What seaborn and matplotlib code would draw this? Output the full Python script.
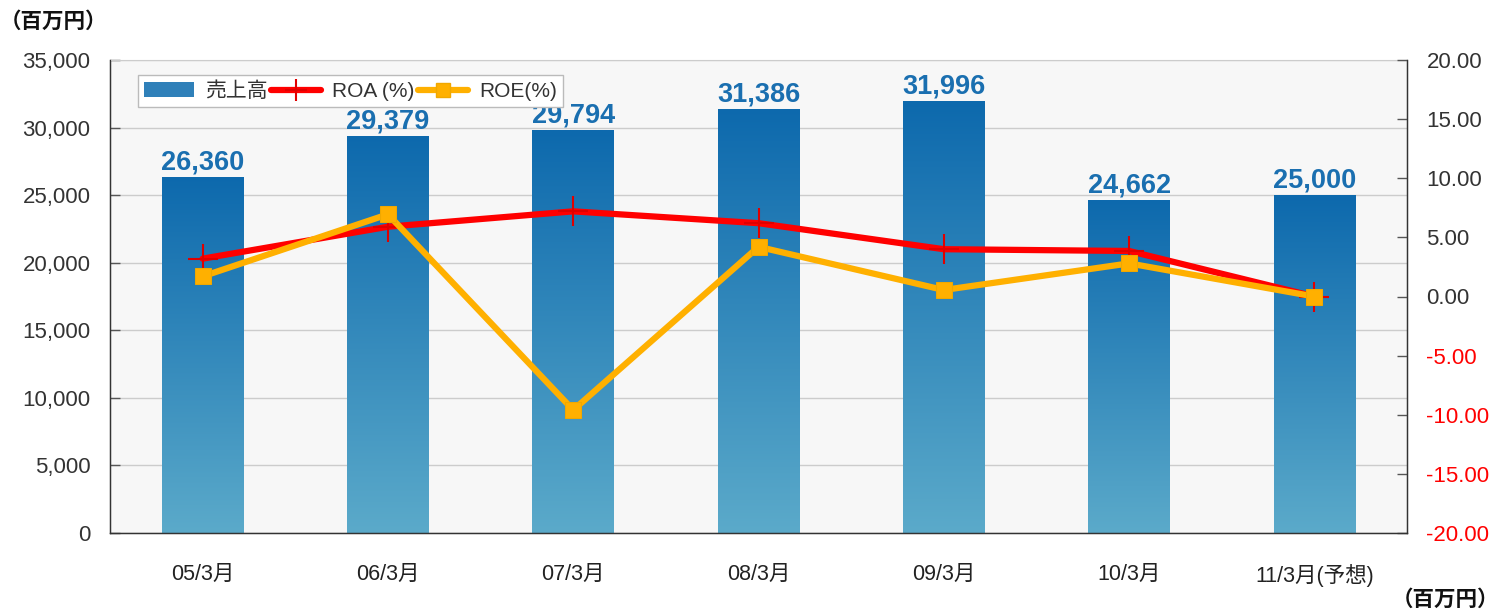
import numpy as np
import pandas as pd
import matplotlib
matplotlib.use("Agg")
import matplotlib.pyplot as plt
import seaborn as sns
from matplotlib.patches import Patch
from matplotlib.lines import Line2D
from matplotlib.colors import LinearSegmentedColormap
from matplotlib.ticker import FuncFormatter, FixedLocator

# ---------------- data ----------------
periods = ["05/3月", "06/3月", "07/3月", "08/3月", "09/3月", "10/3月", "11/3月(予想)"]
sales = [26360, 29379, 29794, 31386, 31996, 24662, 25000]
roa = [3.2, 5.9, 7.2, 6.2, 4.0, 3.85, 0.0]
roe = [1.7, 6.95, -9.6, 4.2, 0.55, 2.8, 0.0]

df = pd.DataFrame({"period": periods, "sales": sales, "roa": roa, "roe": roe})
df["pos"] = np.arange(len(df))

sns.set_style("white")
plt.rcParams["font.family"] = ["Liberation Sans", "Noto Sans CJK JP", "DejaVu Sans"]

fig = plt.figure(figsize=(15.01, 6.11), dpi=100)
ax = fig.add_axes([110 / 1501, 1 - 533 / 611, 1297 / 1501, 473 / 611])
ax.set_facecolor("#F7F7F7")

# bars with vertical gradient
sns.barplot(data=df, x="period", y="sales", ax=ax, width=0.44,
            color="#2A7AB5", saturation=1, zorder=2)

grad = LinearSegmentedColormap.from_list("bar", ["#5BAACA", "#0D69AD"])
gimg = np.linspace(0, 1, 256).reshape(-1, 1)
for p in ax.patches:
    x0, y0 = p.get_x(), p.get_y()
    w, h = p.get_width(), p.get_height()
    im = ax.imshow(gimg, cmap=grad, origin="lower", aspect="auto",
                   extent=[x0, x0 + w, y0, y0 + h], zorder=2)
    im.set_clip_path(p)
    p.set_alpha(0)

ax.bar_label(ax.containers[0], labels=[f"{v:,}" for v in sales], padding=1,
             fontsize=19.5, fontweight="bold", color="#1A6FB0")

ax.set_xlim(-0.5, 6.5)
ax.set_ylim(0, 35000)
ax.yaxis.set_major_locator(FixedLocator(np.arange(0, 35001, 5000)))
ax.yaxis.set_major_formatter(FuncFormatter(lambda v, _: f"{int(v):,}"))
ax.grid(axis="y", color="#CCCCCC", linewidth=1, zorder=0)
ax.set_axisbelow(True)
ax.set_xlabel("")
ax.set_ylabel("")
ax.tick_params(axis="y", direction="in", length=7, width=1, color="#555555",
               labelsize=16, labelcolor="#333333", pad=14)
ax.tick_params(axis="x", length=0, labelsize=15.5, labelcolor="#222222", pad=22)
ax.set_xticks(np.arange(-0.5, 6.6, 1), minor=True)
ax.tick_params(axis="x", which="minor", direction="in", length=6, color="#888888")
for s in ["left", "bottom", "right"]:
    ax.spines[s].set_color("#333333")
    ax.spines[s].set_linewidth(1)
ax.spines["top"].set_color("#CCCCCC")

# ROA / ROE on secondary axis
ax2 = ax.twinx()
sns.lineplot(data=df, x="pos", y="roa", ax=ax2, color="#FF0000", linewidth=4.5,
             marker="+", markersize=22, markeredgewidth=1.5, markeredgecolor="#E00000", zorder=4)
sns.lineplot(data=df, x="pos", y="roe", ax=ax2, color="#FFB000", linewidth=4.5,
             marker="s", markersize=12, markeredgecolor="#F0A800", zorder=5)
ax2.set_ylim(-20, 20)
ax2.set_xlim(-0.5, 6.5)
ax2.yaxis.set_major_locator(FixedLocator(np.arange(-20, 20.1, 5)))
ax2.yaxis.set_major_formatter(FuncFormatter(lambda v, _: f"{v:.2f}"))
ax2.set_ylabel("")
ax2.set_xlabel("")
ax2.tick_params(axis="y", direction="in", length=7, width=1, color="#555555",
                labelsize=16, labelcolor="#333333", pad=14)
for lbl, v in zip(ax2.get_yticklabels(), np.arange(-20, 20.1, 5)):
    if v < 0:
        lbl.set_color("#FF0000")
for s in ["left", "bottom", "right"]:
    ax2.spines[s].set_color("#333333")
ax2.spines["top"].set_visible(False)

handles = [
    Patch(facecolor="#2F80B9", edgecolor="none"),
    Line2D([], [], color="#FF0000", linewidth=4.5, marker="+", markersize=16,
           markeredgewidth=1.5, markeredgecolor="#E00000"),
    Line2D([], [], color="#FFB000", linewidth=4.5, marker="s", markersize=10,
           markeredgecolor="#F0A800"),
]
ax2.legend(handles, ["売上高", "ROA (%)", "ROE(%)"], loc="upper left",
           bbox_to_anchor=(0.0216, 0.968), borderaxespad=0, ncol=3, frameon=True,
           fancybox=False, edgecolor="#BBBBBB", framealpha=1, fontsize=15,
           handlelength=2.4, handletextpad=0.5, columnspacing=0.2, borderpad=0.3,
           labelcolor="#333333")

fig.text(0 / 1501, 1 - 22 / 611, "（百万円）", fontsize=15.5, fontweight="bold",
         ha="left", va="center", color="#111111")
fig.text(1499 / 1501, 1 - 600 / 611, "（百万円）", fontsize=15.5, fontweight="bold",
         ha="right", va="center", color="#111111")

fig.savefig("out.png", dpi=100, facecolor="white")
